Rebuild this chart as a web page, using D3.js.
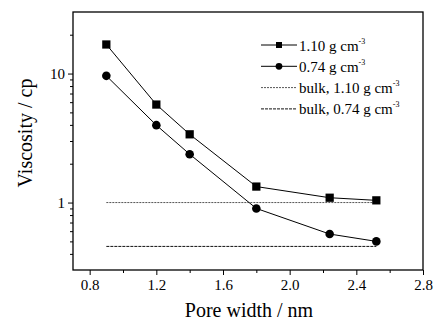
<!DOCTYPE html>
<html>
<head>
<meta charset="utf-8">
<script src="https://cdn.jsdelivr.net/npm/d3@7"></script>
<style>
  body { margin: 0; background: #fff; }
</style>
</head>
<body>
<svg id="chart" width="434" height="322"></svg>
<script>
// pore widths (nm)
const poreWidth = [0.9, 1.2, 1.4, 1.8, 2.24, 2.52];
// viscosity (cp) for the two densities
const visc110 = [16.8, 5.75, 3.38, 1.33, 1.09, 1.04];
const visc074 = [9.6, 3.98, 2.37, 0.90, 0.57, 0.50];
// bulk values
const bulk110 = 1.0;
const bulk074 = 0.457;
const bulkRange = [0.9, 2.52];

const xMajor = [0.8, 1.2, 1.6, 2.0, 2.4, 2.8];
const xMinor = [1.0, 1.4, 1.8, 2.2, 2.6];
const yMajor = [1, 10];
const yMinor = [0.4, 0.5, 0.6, 0.7, 0.8, 0.9, 2, 3, 4, 5, 6, 7, 8, 9, 20];

const legendItems = [
  {label: "1.10 g cm", kind: "square"},
  {label: "0.74 g cm", kind: "circle"},
  {label: "bulk, 1.10 g cm", kind: "dot"},
  {label: "bulk, 0.74 g cm", kind: "dash"}
];

/**
 * Picks the first serif font that is really installed (canvas width test)
 */
function pickFont(cands){
  let ctx = document.createElement("canvas").getContext("2d");
  let probe = "Pore width / nm 0123456789 Viscosity";
  for (let base of ["monospace", "sans-serif"]) {
    ctx.font = `20px ${base}`;
    let w0 = ctx.measureText(probe).width;
    for (let c of cands) {
      ctx.font = `20px "${c}", ${base}`;
      if (Math.abs(ctx.measureText(probe).width - w0) > 0.5) {
        // make sure it differs from both fallbacks
        let other = base == "monospace" ? "sans-serif" : "monospace";
        ctx.font = `20px ${other}`;
        let w1 = ctx.measureText(probe).width;
        ctx.font = `20px "${c}", ${other}`;
        if (Math.abs(ctx.measureText(probe).width - w1) > 0.5) return `"${c}"`;
      }
    }
  }
  return "serif";
}
const fontFam = pickFont(["Liberation Serif", "Times New Roman", "Tinos", "DejaVu Serif",
  "Noto Serif", "FreeSerif", "Nimbus Roman", "Nimbus Roman No9 L", "Times", "C059", "P052"]);

const svg = d3.select("#chart").attr("font-family", fontFam);
const m = {left: 73, top: 12, right: 423, bottom: 270};

const x = d3.scaleLinear().domain([0.7, 2.8]).range([m.left, m.right]);
const y = d3.scaleLog().domain([0.3, 30]).range([m.bottom, m.top]);

// bottom axis: major + minor ticks
const gx = svg.append("g").attr("transform", `translate(0,${m.bottom})`);
gx.call(d3.axisBottom(x).tickValues(xMajor).tickSize(5).tickPadding(4)
    .tickFormat(d3.format(".1f")));
gx.append("g").call(d3.axisBottom(x).tickValues(xMinor).tickSize(3).tickFormat(""));

const gy = svg.append("g").attr("transform", `translate(${m.left},0)`);
gy.call(d3.axisLeft(y).tickValues(yMajor).tickSize(5).tickPadding(3)
    .tickFormat(d3.format("d")));
gy.append("g").call(d3.axisLeft(y).tickValues(yMinor).tickSize(3).tickFormat(""));

svg.selectAll("g").attr("font-family", fontFam);
svg.selectAll(".domain").remove();
svg.selectAll(".tick line").attr("stroke", "#000").attr("stroke-width", 1);
svg.selectAll(".tick text").attr("font-size", 15).attr("fill", "#000");

// frame
svg.append("rect")
  .attr("x", m.left).attr("y", m.top)
  .attr("width", m.right - m.left).attr("height", m.bottom - m.top)
  .attr("fill", "none").attr("stroke", "#000").attr("stroke-width", 1.3);

// bulk lines
svg.append("line")
  .attr("x1", x(bulkRange[0])).attr("x2", x(bulkRange[1]))
  .attr("y1", y(bulk110)).attr("y2", y(bulk110))
  .attr("stroke", "#555").attr("stroke-width", 1).attr("stroke-dasharray", "2,1");
svg.append("line")
  .attr("x1", x(bulkRange[0])).attr("x2", x(bulkRange[1]))
  .attr("y1", y(bulk074)).attr("y2", y(bulk074))
  .attr("stroke", "#111").attr("stroke-width", 1).attr("stroke-dasharray", "3,1");

const line = d3.line().x(d => x(d[0])).y(d => y(d[1]));

function drawSeries(vals, kind){
  let pts = poreWidth.map((p, i) => [p, vals[i]]);
  svg.append("path").attr("d", line(pts))
    .attr("fill", "none").attr("stroke", "#000").attr("stroke-width", 1);
  let sym = d3.symbol().type(kind == "square" ? d3.symbolSquare : d3.symbolCircle)
    .size(kind == "square" ? 68 : 58);
  svg.append("g").selectAll("path").data(pts).join("path")
    .attr("d", sym)
    .attr("transform", d => `translate(${x(d[0])},${y(d[1])})`)
    .attr("fill", "#000");
}
drawSeries(visc110, "square");
drawSeries(visc074, "circle");

// legend
const lg = svg.append("g");
legendItems.forEach((it, i) => {
  let ly = 45 + i * 21.3;
  let ln = lg.append("line").attr("x1", 261).attr("x2", 297)
    .attr("y1", ly).attr("y2", ly).attr("stroke-width", 1);
  if (it.kind == "dot") ln.attr("stroke", "#555").attr("stroke-dasharray", "2,1");
  else if (it.kind == "dash") ln.attr("stroke", "#111").attr("stroke-dasharray", "3,1");
  else ln.attr("stroke", "#000");
  if (it.kind == "square" || it.kind == "circle") {
    lg.append("path")
      .attr("d", d3.symbol().type(it.kind == "square" ? d3.symbolSquare : d3.symbolCircle).size(36)())
      .attr("transform", `translate(279,${ly})`).attr("fill", "#000");
  }
  let t = lg.append("text").attr("x", 299).attr("y", ly + 5.5)
    .attr("font-size", 15).attr("fill", "#000");
  t.append("tspan").text(it.label);
  t.append("tspan").attr("font-size", 8).attr("dy", -7).text("-3");
});

// axis titles
svg.append("text").attr("x", 249).attr("y", 317)
  .attr("text-anchor", "middle").attr("font-size", 20).text("Pore width / nm");
svg.append("text").attr("transform", "translate(32,133) rotate(-90)")
  .attr("text-anchor", "middle").attr("font-size", 20).text("Viscosity / cp");
</script>
</body>
</html>
